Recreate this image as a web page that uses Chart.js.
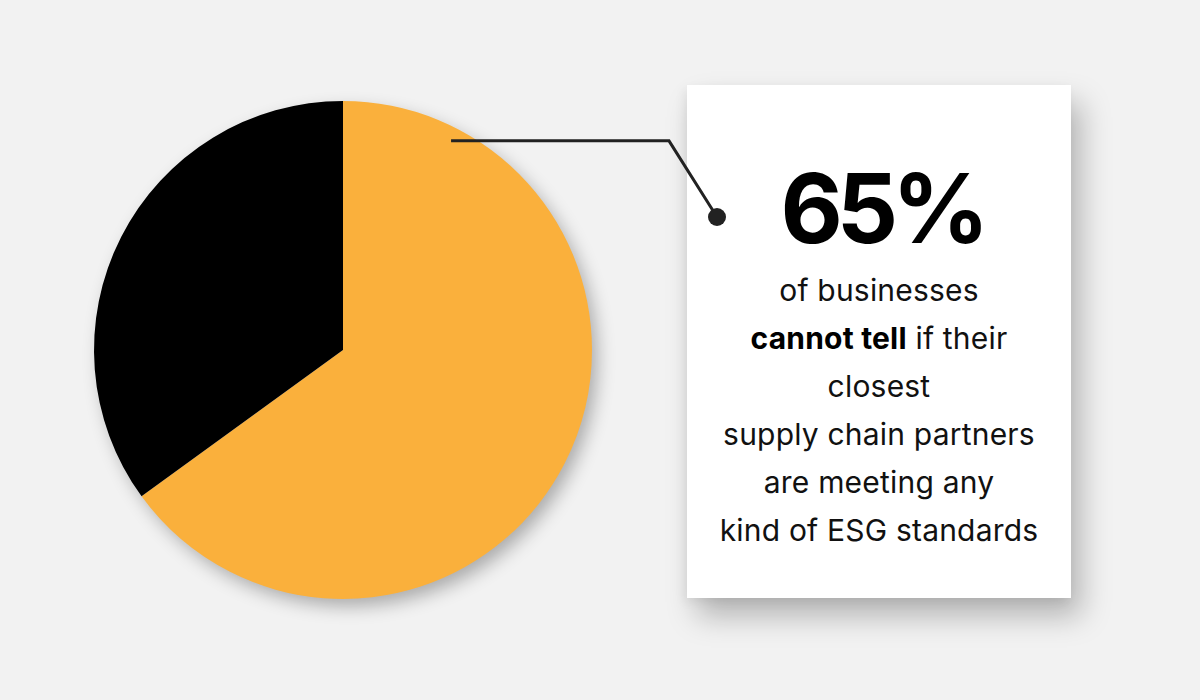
<!DOCTYPE html>
<html>
<head>
<meta charset="utf-8">
<script src="https://cdn.jsdelivr.net/npm/chart.js@4/dist/chart.umd.min.js"></script>
<style>
  html, body { margin: 0; padding: 0; }
  body { width: 1200px; height: 700px; background: #f2f2f2; position: relative; overflow: hidden; font-family: Inter, "Noto Sans", sans-serif; }
  #card { position: absolute; left: 687px; top: 85px; width: 384px; height: 513px; background: #ffffff;
          box-shadow: 10px 18px 28px rgba(0,0,0,0.26), -3px 4px 10px rgba(0,0,0,0.06); z-index: 1; }
  #big { position: absolute; left: 3px; width: 384px; top: 75px; text-align: center; font-size: 96px; line-height: 96px;
         font-weight: 700; color: #000; letter-spacing: -6px; }
  #body { position: absolute; left: 0; width: 384px; top: 181px; text-align: center; font-size: 30px; line-height: 48px;
          color: #111; font-weight: 400; letter-spacing: 0.2px; }
  #body b { font-weight: 700; color: #000; }
  #c { position: absolute; left: 0; top: 0; z-index: 2; pointer-events: none; }
</style>
</head>
<body>
<div id="card">
  <div id="big">65%</div>
  <div id="body">of businesses<br><b>cannot tell</b> if their<br>closest<br>supply chain partners<br>are meeting any<br>kind of ESG standards</div>
</div>
<canvas id="c" width="1200" height="700"></canvas>
<script>
const categories = ["Cannot tell", "Can tell"];
const values = [65, 35];
const colors = ["#FAB03C", "#000000"];

const pieShadow = {
  id: 'pieShadow',
  beforeDatasetsDraw(chart) {
    const arc = chart.getDatasetMeta(0).data[0];
    if (!arc) return;
    const ctx = chart.ctx;
    ctx.save();
    ctx.shadowColor = 'rgba(0,0,0,0.30)';
    ctx.shadowBlur = 18;
    ctx.shadowOffsetX = 6;
    ctx.shadowOffsetY = 8;
    ctx.fillStyle = '#f2f2f2';
    ctx.beginPath();
    ctx.arc(arc.x, arc.y, arc.outerRadius - 1, 0, Math.PI * 2);
    ctx.fill();
    ctx.restore();
  }
};

const connector = {
  id: 'connector',
  afterDraw(chart) {
    const arc = chart.getDatasetMeta(0).data[0];
    if (!arc) return;
    const ctx = chart.ctx;
    const r = arc.outerRadius;
    const sx = arc.x + r * 0.434, sy = arc.y - r * 0.84;
    const mx = 669, ex = 717, ey = 217;
    ctx.save();
    ctx.strokeStyle = '#222222';
    ctx.lineWidth = 3;
    ctx.lineJoin = 'miter';
    ctx.beginPath();
    ctx.moveTo(sx, sy);
    ctx.lineTo(mx, sy);
    ctx.lineTo(ex, ey);
    ctx.stroke();
    ctx.fillStyle = '#222222';
    ctx.beginPath();
    ctx.arc(ex, ey, 9, 0, Math.PI * 2);
    ctx.fill();
    ctx.restore();
  }
};

new Chart(document.getElementById('c'), {
  type: 'pie',
  data: {
    labels: categories,
    datasets: [{ data: values, backgroundColor: colors, borderWidth: 0 }]
  },
  options: {
    responsive: false,
    animation: false,
    layout: { padding: { left: 94, right: 608, top: 101, bottom: 101 } },
    plugins: { legend: { display: false }, tooltip: { enabled: false } }
  },
  plugins: [pieShadow, connector]
});
</script>
</body>
</html>
